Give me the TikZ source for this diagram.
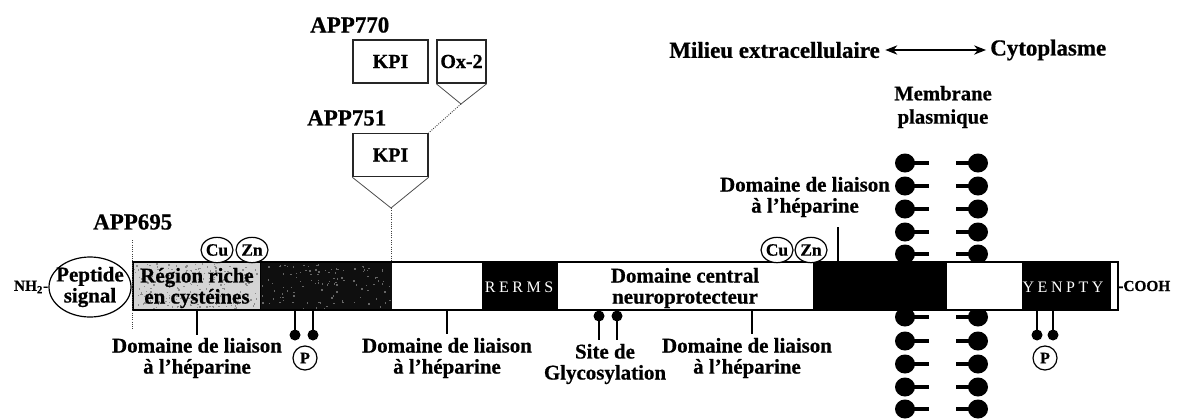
\documentclass[tikz,border=0pt]{standalone}
\usepackage{fontspec}
\setmainfont{Liberation Serif}[BoldFeatures={FakeBold=0.7}]
\usetikzlibrary{arrows.meta,shapes.geometric}
\begin{document}
\begin{tikzpicture}[x=0.75pt,y=-0.75pt,
  lbl/.style={font=\fontsize{15.7}{15.8}\selectfont\bfseries, align=center, inner sep=0pt},
  big/.style={font=\fontsize{17.2}{20}\selectfont\bfseries, inner sep=0pt},
  small/.style={font=\fontsize{11.5}{12}\selectfont\bfseries, inner sep=0pt},
  motif/.style={font=\fontsize{12}{13}\selectfont\addfontfeatures{LetterSpace=22}, text=white, inner sep=0pt},
  isobox/.style={draw=black!85, line width=1.1pt, inner sep=0pt, minimum height=32.25pt,
                 font=\fontsize{15}{16}\selectfont\bfseries},
  ion/.style={draw, line width=0.9pt, ellipse, inner sep=0pt, minimum width=24pt, minimum height=19pt,
              font=\fontsize{13}{14}\selectfont\bfseries, fill=white},
  phos/.style={draw, line width=0.9pt, circle, inner sep=0pt, minimum size=18pt,
               font=\fontsize{12}{13}\selectfont\bfseries},
  tick/.style={line width=1.5pt},
  stalk/.style={line width=1.3pt},
  lipid/.style={line width=3pt},
  guide/.style={densely dotted, line width=0.7pt, black!75},
  wedge/.style={line width=0.6pt, black!70}
]
\useasboundingbox (0,0) rectangle (1177,418);

% ---------- lipid bilayer of the plasma membrane ----------
\foreach \yy in {163,186,209,232,254,317,341,364,387,409}{
  \draw[lipid] (905,\yy) -- (929,\yy);
  \fill (905,\yy) ellipse (10 and 9.5);
  \draw[lipid] (956,\yy) -- (978,\yy);
  \fill (978,\yy) ellipse (10 and 9.5);
}

% ---------- protein domains ----------
\fill[black!17] (133,262) rectangle (260,310);
\fill[black!94] (260,262) rectangle (392,310);
\fill[white] (392,262) rectangle (482,310);
\fill[black] (482,262) rectangle (558,310);
\fill[white] (558,262) rectangle (813,310);
\fill[black] (813,262) rectangle (947,310);
\fill[white] (947,262) rectangle (1022,310);
\fill[black] (1022,262) rectangle (1110,310);
\fill[white] (1110,263) rectangle (1117,309);

% grain of the cysteine-rich and acidic regions
\pgfmathsetseed{7}
\foreach \k in {1,...,220}{
  \pgfmathsetmacro\sx{134+124*rnd}
  \pgfmathsetmacro\sy{263+45*rnd}
  \fill[black!45] (\sx,\sy) rectangle ++(1.4,1.4);
}
\foreach \k in {1,...,110}{
  \pgfmathsetmacro\sx{261+129*rnd}
  \pgfmathsetmacro\sy{263+45*rnd}
  \fill[black!60] (\sx,\sy) rectangle ++(1.4,1.4);
}

\draw[line width=1pt] (133,262) rectangle (1118,310);
\draw[line width=0.8pt] (1110,262) -- (1110,310);
\draw[line width=0.6pt] (260,262) -- (260,310);

% ---------- texts inside the chain ----------
\node[lbl] (cys) at (197,288) {Région riche\\en cystéines};
\node[lbl] (neuro) at (685,288) {Domaine central\\neuroprotecteur};
\node[motif] (rerms) at (519,287) {RERMS};
\node[motif] (yenpty) at (1063,287) {YENPTY};

% ---------- ends of the chain ----------
\node[draw, ellipse, line width=0.9pt, minimum width=61.5pt, minimum height=45pt, inner sep=0pt] (sp) at (90,287) {};
\node[lbl] at (sp.center) {Peptide\\signal};
\node[small, anchor=east] (nh) at (sp.west) {NH\textsubscript{2}-};
\node[small, anchor=west] (cooh) at (1118,286) {-COOH};
\draw[guide] (132,240) -- (132,330);

% ---------- labels ----------
\node[big, anchor=west] (app695) at (93,222) {APP695};
\node[big, anchor=west] (app751) at (307,118) {APP751};
\node[big, anchor=west] (app770) at (310,25) {APP770};

% ---------- inserted domains ----------
\node[isobox, minimum width=56.25pt] (kpiA) at (390.5,61.5) {KPI};
\node[isobox, minimum width=36.75pt] (ox) at (461.5,61.5) {Ox-2};
\node[isobox, minimum width=56.25pt] (kpiB) at (390.5,155) {KPI};
\coordinate (apexO) at (461,104);
\coordinate (apexB) at (391,208);
\coordinate (ins) at (391,262);
\draw[wedge] (ox.south west) -- (apexO) -- (ox.south east);
\draw[guide] (apexO) -- (kpiB.north east);
\draw[wedge] (kpiB.south west) -- (apexB) -- (kpiB.south east);
\draw[guide] (apexB) -- (ins);

% ---------- metal binding sites ----------
\node[ion] (cu1) at (217,250) {Cu};
\node[ion] (zn1) at (252,250) {Zn};
\node[ion] (cu2) at (777,250) {Cu};
\node[ion] (zn2) at (811,250) {Zn};

% ---------- heparin binding domains ----------
\node[lbl] (hep1) at (197,358) {Domaine de liaison\\à l'héparine};
\node[lbl] (hep2) at (447,358) {Domaine de liaison\\à l'héparine};
\node[lbl] (hep3) at (747,358) {Domaine de liaison\\à l'héparine};
\node[lbl] (hep4) at (805,197) {Domaine de liaison\\à l'héparine};
\draw[tick] (197,310) -- (197,335);
\draw[tick] (447,310) -- (447,334);
\draw[tick] (752,310) -- (752,334);
\draw[line width=1pt] (838,227) -- (838,262);

% ---------- glycosylation ----------
\node[lbl] (glyc) at (605,364) {Site de\\Glycosylation};
\foreach \gx in {599,617}{
  \draw[stalk] (\gx,316) -- (\gx,340);
  \fill (\gx,316) circle (5.5);
}

% ---------- phosphorylation ----------
\node[phos] (p1) at (305,358) {P};
\node[phos] (p2) at (1045,358) {P};
\foreach \px in {295,313,1037,1053}{
  \draw[stalk] (\px,310) -- (\px,335);
  \fill (\px,335) circle (5.5);
}

% ---------- membrane orientation ----------
\node[big, anchor=east] (extra) at (880,50) {Milieu extracellulaire};
\node[big, anchor=west] (cyto) at (990,50) {Cytoplasme};
\draw[{Stealth[length=9pt,width=7pt]}-{Stealth[length=9pt,width=7pt]}, line width=0.8pt,
      shorten <=4pt, shorten >=3pt] (extra.east) -- (cyto.west);
\node[font=\fontsize{15.5}{17.5}\selectfont\bfseries, align=center, inner sep=0pt] (memb) at (943,107) {Membrane\\plasmique};
\end{tikzpicture}
\end{document}
